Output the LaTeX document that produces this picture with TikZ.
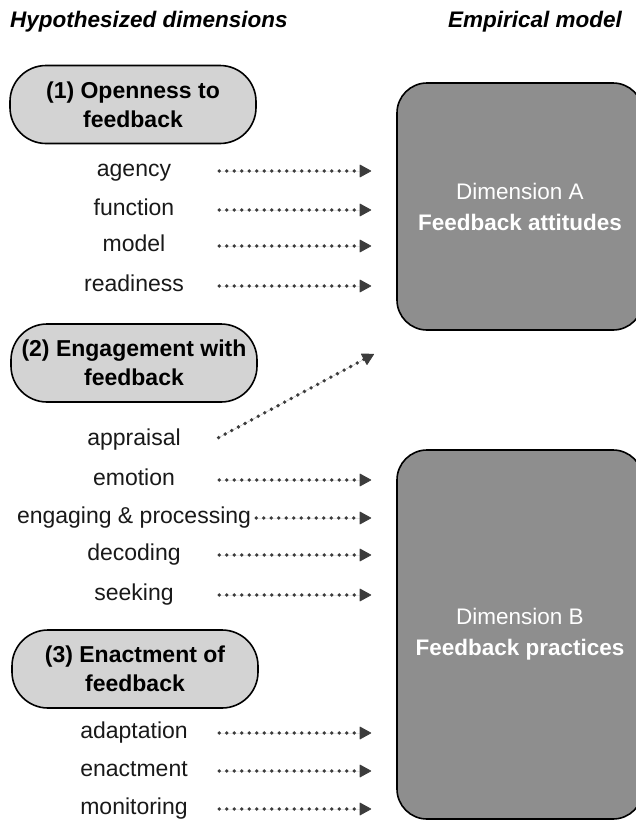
\documentclass[tikz,border=0pt]{standalone}
\usepackage{fontspec}
\setmainfont{Liberation Sans}
\usetikzlibrary{arrows.meta, positioning}
\definecolor{pillgray}{RGB}{211,211,211}
\definecolor{dimgray}{RGB}{142,142,142}
\definecolor{dotgray}{RGB}{60,60,60}

\begin{document}
\begin{tikzpicture}[x=1pt, y=-1pt,
		head/.style={font=\bfseries\itshape\fontsize{22.5}{26}\selectfont, inner sep=0pt},
		pill/.style={draw=black, line width=1.6pt, fill=pillgray, rounded corners=36pt,
			minimum width=246pt, minimum height=78pt, inner sep=0pt, align=center,
			font=\bfseries\fontsize{23}{29}\selectfont},
		dimbox/.style={draw=black, line width=1.6pt, fill=dimgray, rounded corners=30pt,
			minimum width=246pt, inner sep=0pt, align=center, text=white,
			font=\fontsize{22.5}{31}\selectfont},
		item/.style={minimum width=160pt, inner sep=0pt, text height=16pt, text depth=5pt,
			font=\fontsize{23}{26}\selectfont, text=black!90},
		link/.style={-{Triangle[length=12pt, width=13pt, line width=0.8pt, round]},
			draw=dotgray, fill=dotgray, line width=3.8pt,
			dash pattern=on 0pt off 7.5pt, line cap=round,
			shorten <=5pt, shorten >=25pt}
	]
		\clip (0,0) rectangle (636,822);
		\node[head, anchor=west] (hyp) at (10,22) {Hypothesized dimensions};
		\node[head] (emp) at (535,22) {Empirical model};

		\node[pill] (open) at (133,104.5) {(1) Openness to\\feedback};
		\node[pill] (engage) at (134,363) {(2) Engagement with\\feedback};
		\node[pill] (enact) at (135,669) {(3) Enactment of\\feedback};

		\node[dimbox, minimum height=247pt] (dimA) at (520,206.5)
			{Dimension A\\\textbf{Feedback attitudes}};
		\node[dimbox, minimum height=369pt] (dimB) at (520,634.5)
			{Dimension B\\\textbf{Feedback practices}};

		\foreach \n/\t/\y in {agency/agency/171, function/function/210, model/model/246,
			readiness/readiness/286, appraisal/appraisal/440, emotion/emotion/480,
			engaging/engaging \& processing/518, decoding/decoding/555,
			seeking/seeking/595, adaptation/adaptation/733,
			enactment/enactment/771, monitoring/monitoring/809}
			\node[item] (\n) at (134,\y) {\t};
		\coordinate (aend) at (374,354);

		\foreach \n in {agency,function,model,readiness}
			\draw[link] (\n) -- (\n -| dimA.west);
		\draw[link, shorten >=0pt] (appraisal.east) -- (aend);
		\foreach \n in {emotion,engaging,decoding,seeking,adaptation,enactment,monitoring}
			\draw[link] (\n) -- (\n -| dimB.west);
	\end{tikzpicture}
\end{document}
